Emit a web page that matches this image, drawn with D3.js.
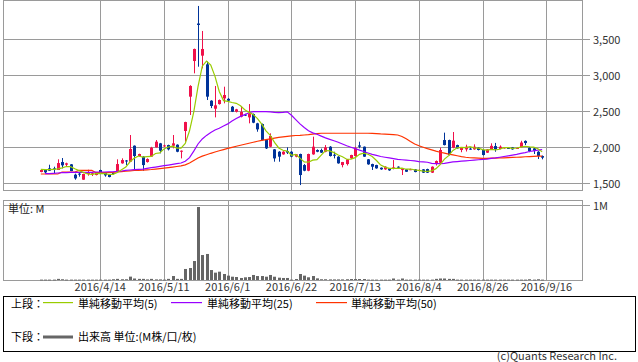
<!DOCTYPE html>
<html><head><meta charset="utf-8">
<script src="https://cdn.jsdelivr.net/npm/d3@7"></script>
<style>
body{margin:0;background:#fff}
text{font-family:"Noto Sans CJK JP","DejaVu Sans",sans-serif}
</style>
</head><body>
<svg id="chart" width="638" height="362"></svg>
<script>
// ---- data ----
const dates = [
"2016/3/25","2016/3/28","2016/3/29","2016/3/30","2016/3/31","2016/4/1","2016/4/4","2016/4/5","2016/4/6","2016/4/7",
"2016/4/8","2016/4/11","2016/4/12","2016/4/13","2016/4/14","2016/4/15","2016/4/18","2016/4/19","2016/4/20","2016/4/21",
"2016/4/22","2016/4/25","2016/4/26","2016/4/27","2016/4/28","2016/5/2","2016/5/6","2016/5/9","2016/5/10","2016/5/11",
"2016/5/12","2016/5/13","2016/5/16","2016/5/17","2016/5/18","2016/5/19","2016/5/20","2016/5/23","2016/5/24","2016/5/25",
"2016/5/26","2016/5/27","2016/5/30","2016/5/31","2016/6/1","2016/6/2","2016/6/3","2016/6/6","2016/6/7","2016/6/8",
"2016/6/9","2016/6/10","2016/6/13","2016/6/14","2016/6/15","2016/6/16","2016/6/17","2016/6/20","2016/6/21","2016/6/22",
"2016/6/23","2016/6/24","2016/6/27","2016/6/28","2016/6/29","2016/6/30","2016/7/1","2016/7/4","2016/7/5","2016/7/6",
"2016/7/7","2016/7/8","2016/7/11","2016/7/12","2016/7/13","2016/7/14","2016/7/15","2016/7/19","2016/7/20","2016/7/21",
"2016/7/22","2016/7/25","2016/7/26","2016/7/27","2016/7/28","2016/7/29","2016/8/1","2016/8/2","2016/8/3","2016/8/4",
"2016/8/5","2016/8/8","2016/8/9","2016/8/10","2016/8/12","2016/8/15","2016/8/16","2016/8/17","2016/8/18","2016/8/19",
"2016/8/22","2016/8/23","2016/8/24","2016/8/25","2016/8/26","2016/8/29","2016/8/30","2016/8/31","2016/9/1","2016/9/2",
"2016/9/5","2016/9/6","2016/9/7","2016/9/8","2016/9/9","2016/9/12","2016/9/13","2016/9/14","2016/9/15","2016/9/16"];

const open = [1649,1677,1700,1700,1677,1788,1751,1756,1612,1626,1542,1626,1628,1607,
1677,1635,1612,1635,1653,1770,1810,1793,2016,1872,1863,1788,1863,1993,2049,2010,
2025,2016,2030,1932,2221,2700,3197,3720,3272,3151,2644,2532,2597,2676,2670,2560,
2490,2421,2450,2411,2458,2328,2318,2095,2002,1965,1932,1895,1942,1932,1863,1900,
1746,1667,1895,1956,1956,1932,2002,1890,1863,1746,1760,1839,1872,2020,2002,1826,
1760,1746,1709,1686,1700,1700,1723,1686,1686,1684,1686,1667,1686,1690,1640,1770,
1779,2095,2095,1988,2025,1956,1965,1975,1965,1988,1956,1919,1965,2011,1970,1979,
1985,1993,1980,1995,2083,1988,1979,1932,1872];
const high = [1681,1681,1751,1723,1826,1844,1779,1760,1626,1649,1626,1681,1649,1640,
1681,1640,1616,1640,1826,1840,1816,2165,2020,1905,1870,1840,2000,2095,2055,2030,
2030,2165,2035,1950,2350,2860,3370,3965,3616,3190,2650,2849,2660,2839,2680,2570,
2530,2570,2460,2597,2465,2335,2325,2100,2188,1970,1940,1940,1993,1940,1900,1905,
1760,1905,2142,1965,1975,2025,2010,1932,1870,1790,1830,1890,2002,2072,2005,1830,
1765,1750,1712,1730,1705,1816,1728,1700,1690,1695,1690,1685,1690,1695,1728,1810,
1988,2198,2100,2207,2030,1995,2030,1990,2035,1995,1965,1970,2049,2055,2020,1998,
1990,1998,1990,2085,2090,2000,1985,1940,1880];
const low = [1645,1635,1663,1630,1677,1700,1723,1660,1542,1584,1540,1598,1593,1602,
1626,1584,1575,1612,1649,1765,1746,1790,1677,1865,1667,1780,1860,1990,1909,2000,
1950,1979,1925,1839,2072,2444,3025,3118,3095,2653,2540,2411,2590,2607,2630,2485,
2480,2411,2430,2328,2330,2211,2090,1970,1995,1793,1793,1890,1900,1855,1855,1467,
1660,1660,1890,1925,1915,1925,1865,1839,1765,1714,1740,1830,1865,1980,1860,1750,
1677,1695,1680,1680,1665,1686,1700,1607,1650,1675,1645,1660,1635,1635,1635,1740,
1770,2020,1880,1980,1975,1925,1935,1960,1960,1950,1880,1915,1960,1932,1965,1975,
1970,1960,1975,1990,2025,1925,1900,1830,1826];
const close = [1677,1644,1667,1690,1774,1742,1770,1663,1560,1616,1621,1635,1632,1635,
1630,1602,1579,1626,1760,1816,1800,1970,1872,1900,1746,1830,1988,2072,1946,2020,
1965,2049,1932,1946,2346,2849,3365,3700,3365,2700,2570,2579,2653,2723,2644,2490,
2523,2486,2440,2467,2337,2244,2095,1979,2151,1839,1863,1932,1919,1863,1895,1607,
1667,1900,2002,1932,1919,1993,1872,1880,1770,1788,1826,1886,1979,2002,1863,1756,
1723,1700,1686,1723,1672,1714,1709,1690,1653,1688,1649,1677,1640,1640,1723,1802,
1956,2025,1886,2086,1979,1988,2002,1965,2002,1956,1886,1965,2014,1970,2002,1993,
1975,1965,1985,2060,2053,1940,1946,1872,1849];

const ma5 = [1686,1681,1681,1686,1692,1706,1726,1724,1695,1668,1644,1622,1615,1627,
1630,1627,1616,1616,1642,1680,1718,1792,1843,1872,1858,1864,1867,1907,1916,1971,
1998,2010,1982,1982,2048,2224,2488,2841,3125,3196,3140,2983,2773,2645,2634,2618,
2607,2573,2517,2481,2451,2395,2317,2224,2161,2062,1985,1953,1941,1883,1894,1843,
1790,1786,1814,1822,1884,1949,1944,1919,1887,1861,1827,1830,1850,1896,1911,1897,
1865,1809,1746,1718,1701,1699,1701,1702,1688,1691,1678,1671,1661,1659,1666,1696,
1752,1829,1878,1951,1986,1993,1988,2004,1987,1983,1962,1955,1965,1957,1966,1988,
1990,1980,1984,1996,2008,1999,1995,1973,1930];
const ma25 = [null,1626,1626,1630,1635,1640,1640,1644,1644,1644,1644,1644,1644,1649,
1649,1649,1653,1653,1658,1663,1672,1677,1681,1686,1690,1700,1709,1718,1728,1737,
1746,1756,1765,1775,1800,1850,1940,2040,2110,2160,2200,2235,2260,2290,2320,2360,
2395,2425,2450,2475,2490,2490,2490,2490,2488,2480,2478,2480,2488,2440,2380,2320,
2270,2225,2195,2175,2150,2125,2105,2085,2065,2040,2015,1995,1975,1955,1935,1915,
1895,1880,1865,1855,1845,1835,1825,1820,1815,1810,1805,1795,1790,1785,1770,1765,
1765,1770,1780,1790,1795,1800,1805,1810,1815,1820,1825,1830,1838,1845,1855,1865,
1875,1885,1895,1910,1920,1935,1945,1955,1962];
const ma50 = [1621,1621,1621,1621,1621,1649,1649,1649,1649,1672,1672,1672,1672,1640,
1640,1640,1642,1645,1650,1655,1660,1665,1670,1673,1676,1680,1684,1690,1697,1704,
1711,1718,1726,1734,1748,1775,1810,1845,1870,1890,1910,1928,1945,1962,1978,1993,
2008,2022,2036,2050,2064,2078,2090,2102,2112,2122,2132,2140,2147,2153,2158,2160,
2165,2170,2178,2185,2190,2190,2190,2190,2190,2190,2190,2190,2190,2190,2190,2190,
2188,2185,2180,2177,2174,2170,2165,2145,2112,2075,2040,2015,1995,1975,1958,1940,
1925,1912,1898,1888,1876,1864,1855,1848,1845,1843,1840,1840,1842,1843,1845,1847,
1850,1852,1855,1858,1862,1865,1868,1870,1872];

const volume = [.005,.005,.005,.005,.015,.01,.005,.005,.005,.005,.005,.005,.005,.005,
.005,.005,.005,.01,.015,.01,.01,.045,.02,.015,.015,.008,.015,.008,.008,.005,
.015,.053,.015,.015,.147,.16,.253,.973,.333,.347,.133,.098,.111,.08,.058,.044,
.04,.027,.036,.04,.067,.053,.053,.044,.067,.044,.031,.027,.027,.005,.013,.08,
.058,.036,.053,.022,.01,.01,.008,.008,.008,.008,.01,.013,.013,.013,.013,.005,
.005,.005,.005,.005,.005,.02,.005,.02,.005,.005,.005,.005,.005,.005,.005,.015,
.02,.02,.015,.015,.005,.005,.005,.005,.005,.005,.005,.005,.005,.005,.005,.005,
.005,.005,.005,.005,.005,.01,.005,.01,.005];

const priceTicks = [1500, 2000, 2500, 3000, 3500];
const priceTickLabels = ["1,500","2,000","2,500","3,000","3,500"];
const volTicks = [1];
const volTickLabels = ["1M"];
const dateTicks = ["2016/4/14","2016/5/11","2016/6/1","2016/6/22","2016/7/13","2016/8/4","2016/8/26","2016/9/16"];

// ---- layout ----
const W = 638, H = 362;
const L = 3.5, R = 582.5;
const top1 = 0.5, bot1 = 190.5;
const top2 = 200.5, bot2 = 280.5;
const gridColor = "#9a9a9a";
const upColor = "#f0104a", downColor = "#003399";

const svg = d3.select("#chart");
svg.append("rect").attr("width", W).attr("height", H).attr("fill", "#fff");

const x = d3.scaleLinear().domain([14, 119]).range([100.3, 546.4]);
const y = d3.scaleLinear().domain([1500, 3500]).range([182.7, 39.3]);
const yv = d3.scaleLinear().domain([0, 1]).range([280, 205]);

const idx = d => dates.indexOf(d);

// frames
[[top1, bot1], [top2, bot2]].forEach(([t, b]) => {
  svg.append("rect").attr("x", L).attr("y", t).attr("width", R - L).attr("height", b - t)
    .attr("fill", "none").attr("stroke", gridColor).attr("stroke-width", 1);
});

// vertical grid lines
const vg = svg.append("g").attr("stroke", gridColor).attr("stroke-width", 1);
dateTicks.forEach(d => {
  const xx = Math.round(x(idx(d))) + 0.5;
  vg.append("line").attr("x1", xx).attr("x2", xx).attr("y1", top1).attr("y2", bot1);
  vg.append("line").attr("x1", xx).attr("x2", xx).attr("y1", top2).attr("y2", bot2);
});

// horizontal price grid + ticks
priceTicks.forEach((p, k) => {
  const yy = Math.round(y(p)) + 0.5;
  vg.append("line").attr("x1", L).attr("x2", 590).attr("y1", yy).attr("y2", yy);
  svg.append("text").attr("x", 593).attr("y", yy + 4).attr("font-size", 11)
    .attr("fill", "#333").text(priceTickLabels[k]);
});
volTicks.forEach((v, k) => {
  const yy = Math.round(yv(v)) + 0.5;
  vg.append("line").attr("x1", L).attr("x2", 590).attr("y1", yy).attr("y2", yy);
  svg.append("text").attr("x", 593).attr("y", yy + 4).attr("font-size", 11)
    .attr("fill", "#333").text(volTickLabels[k]);
});

// date labels
dateTicks.forEach(d => {
  svg.append("text").attr("x", x(idx(d))).attr("y", 291).attr("text-anchor", "middle")
    .attr("font-size", 11).attr("fill", "#333").text(d);
});

// volume bars
svg.append("g").selectAll("rect").data(volume).join("rect")
  .attr("x", (v, i) => Math.round(x(i)) - 1)
  .attr("width", 3)
  .attr("y", v => yv(v))
  .attr("height", v => Math.max(0.8, 280 - yv(v)))
  .attr("fill", "#666");

svg.append("text").attr("x", 8).attr("y", 213).attr("font-size", 11).attr("fill", "#222").text("単位: M");

// candles
const cg = svg.append("g");
close.forEach((c, i) => {
  const o = open[i], up = c >= o;
  const col = up ? upColor : downColor;
  const xc = Math.round(x(i)) + 0.5;
  cg.append("line").attr("x1", xc).attr("x2", xc).attr("y1", y(high[i])).attr("y2", y(low[i]))
    .attr("stroke", col).attr("stroke-width", 1);
  const yt = y(Math.max(o, c)), yb = y(Math.min(o, c));
  cg.append("rect").attr("x", xc - 1.5).attr("width", 3)
    .attr("y", yt).attr("height", Math.max(1, yb - yt)).attr("fill", col);
});

// moving averages
const line = d3.line().defined(d => d != null).x((d, i) => x(i)).y(d => y(d));
[[ma50, "#ff3300"], [ma25, "#9900ff"], [ma5, "#99cc00"]].forEach(([arr, col]) => {
  svg.append("path").attr("d", line(arr)).attr("fill", "none").attr("stroke", col).attr("stroke-width", 1.2);
});

// legend
const lg = svg.append("g");
lg.append("rect").attr("x", 3.5).attr("y", 296.5).attr("width", 632).attr("height", 55)
  .attr("fill", "none").attr("stroke", "#000").attr("stroke-width", 1);
const ft = 11;
lg.append("text").attr("x", 11).attr("y", 307.5).attr("font-size", ft).attr("fill", "#000").text("上段：");
const items = [["#99cc00", 43, 73, 78, "単純移動平均(5)"], ["#9900ff", 171, 202, 207, "単純移動平均(25)"], ["#ff3300", 316, 347, 351, "単純移動平均(50)"]];
items.forEach(([c, x1, x2, tx, t]) => {
  lg.append("rect").attr("x", x1).attr("y", 302).attr("width", x2 - x1).attr("height", 1.2).attr("fill", c);
  lg.append("text").attr("x", tx).attr("y", 307.5).attr("font-size", ft).attr("fill", "#000").text(t);
});
lg.append("text").attr("x", 11).attr("y", 341).attr("font-size", ft).attr("fill", "#000").text("下段：");
lg.append("rect").attr("x", 43).attr("y", 335.5).attr("width", 30).attr("height", 3).attr("fill", "#666");
lg.append("text").attr("x", 78).attr("y", 341).attr("font-size", ft).attr("fill", "#000").text("出来高 単位:(M株/口/枚)");

svg.append("text").attr("x", 617).attr("y", 360).attr("text-anchor", "end").attr("font-size", 11)
  .attr("fill", "#333").text("(c)Quants Research Inc.");
</script>
</body></html>
